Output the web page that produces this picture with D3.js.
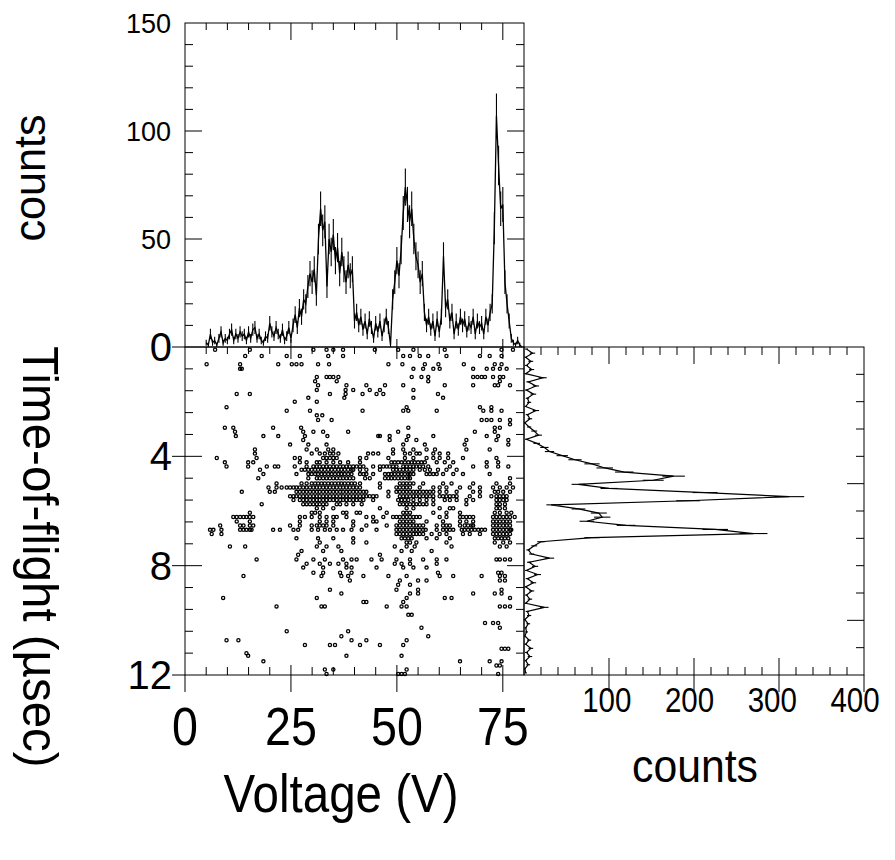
<!DOCTYPE html>
<html><head><meta charset="utf-8">
<script src="https://cdn.jsdelivr.net/npm/d3@7"></script>
<style>
body{margin:0;background:#fff}
svg{display:block}
text{font-family:"Liberation Sans",Arial,Helvetica,sans-serif;fill:#000}
</style>
</head><body>
<svg id="c" width="895" height="860"></svg>
<script>
// ---------------- DATA ----------------
// Voltage spectrum (top panel): bin centres from 5.0 V in 0.5 V steps
const voltageBinStart = 5.0;
const voltageBinWidth = 0.5;
const voltageCounts = [
  2,1,6,2,3,1,4,7,2,4, 3,6,8,3,6,4,7,5,6,3,
  7,4,8,9,4,6,3,2,5,4, 11,7,5,9,6,4,8,3,5,9,
  4,10,15,9,18,14,22,20,28,34, 30,36,24,50,64,54,58,28,50,44,
  52,40,46,34,44,36,30,38,33,36, 12,16,10,14,8,12,6,13,9,4,
  11,7,12,5,10,14,9,1,22,30, 40,33,45,62,74,66,58,64,50,42,
  38,30,34,16,10,14,8,12,5,13, 7,14,42,18,22,12,16,6,12,8,
  14,10,13,7,11,9,14,6,12,9, 11,6,14,10,16,20,55,107,84,64,
  66,30,20,12,4,2,1,3,1,0
];

// Time-of-flight spectrum (right panel): bin centres from 0.075 µs in 0.15 µs steps
const tofBinStart = 0.075;
const tofBinWidth = 0.15;
const tofCounts = [
  3,10,2,8,3,9,2,22,5,14, 3,11,4,6,2,14,4,7,1,6,
  12,17,3,15,24,30,45,60,80,95, 118,176,152,64,100,213,312,193,32,64,
  88,92,74,120,225,270,80,20,12,5, 9,30,6,13,3,16,4,11,2,9,
  3,7,2,24,4,6,1,5,2,3, 1,6,2,8,3,7,2,5,1,2
];

// Coincidence events (bottom-left panel): [time-of-flight µs, [voltages V]]
const scatterRows = [
  [0.10,[7.1,15.3,30.3,33.4,35.0,37.3,44.8,50.3,53.9,61.3,74.7,77.4]],
  [0.33,[14.2,18.1,24.0,27.1,33.8,37.3,51.5,53.1,55.4,57.4,61.7,69.6,71.9,74.7]],
  [0.63,[5.1,13.0,22.0,25.2,26.3,27.5,31.4,34.0,48.0,51.3,56.6,59.8,65.8,73.1,74.7]],
  [0.80,[13.0,13.4,53.9,56.2,58.6,60.1,68.0,71.2,72.7,74.3,75.9]],
  [1.10,[31.1,33.4,34.2,35.0,36.2,53.5,55.8,57.4,68.0,69.0,70.0,70.8,72.7,74.3,75.1]],
  [1.25,[30.7,35.8,57.4,74.3]],
  [1.40,[31.4,38.1,42.8,47.2,51.5,61.3,68.0,73.1,73.9,76.7]],
  [1.57,[31.1,37.9,39.7,43.6,46.0,53.9]],
  [1.72,[12.2,15.3,34.2,37.9,41.9,45.2,46.8,59.7]],
  [1.86,[29.1,37.6,53.9,60.9]],
  [2.00,[25.9,31.1]],
  [2.20,[9.8,52.3,69.6,72.3]],
  [2.33,[24.0,29.5,41.9,51.5,52.7,59.4,70.4,72.3,74.7]],
  [2.50,[31.1,32.4]],
  [2.67,[31.4,34.6,70.0,71.2,72.3,74.3,76.7]],
  [2.83,[76.7]],
  [2.95,[9.4,11.4,20.8,27.4,52.7,73.1,74.3]],
  [3.10,[11.8,27.9,30.3,32.6,38.5,50.3,68.4,73.1]],
  [3.26,[12.0,18.5,22.0,28.3,33.6,45.6,46.0,48.3,52.7,58.6,71.2,73.9]],
  [3.40,[27.9,48.3,52.3,54.6,66.4,73.5,76.3]],
  [3.57,[24.8,29.1,33.4,51.5,56.6,66.0,76.3]],
  [3.75,[16.5,28.7,31.1,33.8,35.0,49.1,51.5,53.9,57.0,59.0,66.4,71.9]],
  [3.90,[16.5,29.9,31.8,33.0,34.2,35.0,36.2,43.2,44.4,45.6,49.1,51.9,53.1,54.6,55.4,58.6,60.1,62.1]],
  [4.06,[7.5,16.9,25.9,27.1,32.6,33.4,34.2,35.0,35.8,41.3,42.8,48.0,51.9,53.9,57.0,58.6,60.1,62.1,65.6,73.5]],
  [4.22,[9.4,14.9,16.1,27.1,28.7,31.1,31.8,33.4,35.0,36.6,38.5,41.3,48.7,49.5,50.3,51.1,51.9,52.7,53.5,54.2,55.0,55.8,56.6,59.4,61.3,63.3,71.2,73.9]],
  [4.37,[9.8,14.9,19.3,21.2,22.0,25.9,28.7,30.3,31.1,31.8,32.6,33.4,34.2,35.0,35.8,36.6,37.3,38.1,38.9,39.7,40.5,41.3,42.1,44.4,46.0,46.8,47.6,48.3,49.1,49.9,51.5,52.3,53.1,53.9,54.6,55.4,56.2,57.4,62.5,68.0,71.2,73.9,76.3]],
  [4.49,[17.7,27.5,28.3,29.1,29.9,30.7,31.4,32.2,33.0,33.8,34.6,35.4,36.2,36.9,37.7,38.5,39.3,39.7,41.3,42.8,46.0,49.1,49.9,50.7,51.5,52.3,53.1,53.9,55.4,56.6,57.8,59.7,61.7,64.1]],
  [4.65,[18.5,26.3,29.1,29.9,30.7,31.4,32.2,33.0,33.8,34.6,35.4,36.2,36.9,37.7,38.5,39.3,41.3,42.1,42.8,44.4,47.2,48.0,48.7,49.5,50.3,51.1,51.9,52.7,53.1,53.9,57.0,57.8,58.6,59.4,60.9,63.3,65.6,71.9]],
  [4.80,[17.3,29.1,31.1,31.8,32.6,33.4,34.2,35.0,35.8,36.6,37.3,38.1,38.9,39.7,42.5,43.6,47.2,48.0,48.7,49.5,50.3,51.1,51.9,52.7,53.1,76.7]],
  [4.99,[21.6,27.5,28.7,29.9,30.7,31.4,32.2,33.0,33.8,34.6,35.4,36.2,36.9,37.7,38.5,39.3,40.1,41.3,46.0,50.7,51.5,52.3,53.1,53.9,56.2,60.9,62.9,68.0,73.5,76.7]],
  [5.14,[19.7,21.6,22.8,24.0,24.8,25.6,26.3,27.1,27.9,28.7,29.5,30.3,31.1,31.8,32.6,33.4,34.2,35.0,35.8,36.6,37.3,38.1,38.9,39.7,40.5,41.3,46.0,49.9,50.7,51.5,52.3,53.1,55.4,58.6,60.1,61.7,64.9,67.2,69.6,72.7,74.3,75.9,77.4]],
  [5.30,[13.4,20.0,21.2,26.3,27.1,27.9,28.7,29.5,30.3,31.1,31.8,32.6,33.4,34.2,35.0,35.8,36.6,37.3,38.1,38.9,39.7,40.5,41.3,42.1,42.8,48.0,49.9,50.7,51.5,52.3,53.1,53.9,54.6,55.4,56.2,57.0,57.8,58.6,60.1,61.7,64.1,68.0,69.6,73.1,73.9,75.1,76.7]],
  [5.46,[24.8,25.6,26.3,27.1,27.9,28.7,29.5,30.3,31.1,31.8,32.6,33.4,34.2,35.0,35.8,36.6,37.3,38.1,38.9,39.7,40.5,41.3,42.1,42.8,43.6,44.4,45.2,48.0,50.7,51.5,52.3,53.1,53.9,54.6,55.4,56.2,57.0,57.8,58.6,60.1,60.9,61.7,62.5,63.3,64.1,67.2,69.6,72.3,73.5,74.3,75.1,75.9]],
  [5.60,[25.6,27.1,27.9,28.7,29.5,30.3,31.1,31.8,32.6,33.4,34.2,35.0,35.8,36.6,37.3,38.1,38.9,39.7,40.5,41.3,42.1,44.4,50.3,51.1,51.9,52.7,53.9,55.4,57.0,58.6,61.3,62.5,64.1,66.4,68.0,73.5,74.3,75.1,75.9]],
  [5.75,[18.1,27.9,28.7,29.5,30.3,31.1,31.8,32.6,33.4,35.8,36.6,38.1,39.7,41.7,50.7,51.5,52.3,53.1,53.9,54.6,55.4,56.2,57.0,58.6,66.4,73.5,74.3,75.5]],
  [5.90,[31.1,32.6,35.0,46.0,52.3,53.9,60.1,62.5,63.3,73.5,74.3,75.5]],
  [6.06,[15.3,29.9,30.7,31.8,37.3,38.1,40.5,41.3,47.6,51.5,52.3,53.1,58.6,61.7,64.9,73.1,74.3,75.9,77.0]],
  [6.22,[11.4,12.2,13.0,13.8,14.5,15.3,16.1,27.1,28.3,29.9,31.8,33.4,35.0,35.8,38.1,42.8,44.4,46.8,49.1,49.9,50.7,51.5,52.3,53.1,53.9,54.6,55.4,60.1,61.7,64.9,65.6,66.4,67.2,68.0,72.7,73.5,74.3,75.1,75.9,76.7,77.8]],
  [6.38,[12.2,15.3,27.1,31.8,33.4,35.0,39.7,44.4,45.2,50.7,51.5,52.3,53.1,53.9,57.0,60.9,64.9,66.4,68.0,72.7,73.5,74.3,75.1,75.9,76.7]],
  [6.53,[8.3,13.0,13.8,15.3,16.1,24.8,27.1,29.9,31.1,31.8,32.6,33.4,35.0,39.7,42.8,47.6,49.9,50.7,51.5,52.3,53.1,53.9,54.6,55.4,56.2,59.4,60.9,61.7,62.5,64.9,66.0,66.8,67.6,68.0,72.7,73.5,74.3,75.1,75.9,76.7]],
  [6.69,[5.9,6.7,8.6,13.0,13.8,14.5,15.3,15.7,20.8,22.4,25.6,26.7,29.9,31.4,33.0,34.2,35.8,37.3,39.3,41.7,45.2,49.9,50.7,51.5,52.3,53.1,53.9,54.6,55.4,56.2,56.8,59.4,60.9,61.7,62.5,63.3,65.3,66.0,66.8,67.6,68.4,69.2,70.0,70.8,72.7,73.5,74.3,75.1,75.9,76.7,77.0]],
  [6.84,[6.3,8.6,49.9,50.7,51.5,52.3,53.1,53.9,54.6,55.4,56.2,58.2,60.1,61.7,65.6,67.2,69.6,72.7,73.5,74.3,75.1,75.9,76.7]],
  [7.00,[26.3,31.4,35.0,39.7,51.1,51.9,52.7,53.5,57.0,59.4,62.5,73.1,73.9,74.7,75.5,76.3]],
  [7.15,[31.8,39.7,42.8,52.3,53.1,54.6,61.7,73.1,75.1,76.7]],
  [7.30,[10.6,14.2,31.1,33.4,36.2,49.5,52.3,54.2,62.9,74.3,75.9]],
  [7.46,[27.5,32.6,36.9,51.1,53.5,58.2]],
  [7.60,[26.7,46.0]],
  [7.77,[16.9,26.3,30.3,33.0,37.3,39.3,40.5,44.0,46.4,49.9,53.1,56.2,59.4,61.7,73.5,74.3,75.5,76.7]],
  [7.93,[28.7,31.8,34.2,36.2,38.1,49.5,51.1,53.1,59.4]],
  [8.07,[27.9,32.6,38.1,39.3,45.2,51.5,53.9,57.0]],
  [8.26,[30.3,32.6,36.6,39.3,59.7,73.9,74.7]],
  [8.38,[13.8,32.2,36.9,38.5,42.1,48.0,52.3,60.1,63.3,70.0,74.3,75.5]],
  [8.54,[38.9,50.7,55.0,57.0,74.3,75.5]],
  [8.70,[50.3,53.1]],
  [8.88,[34.2,49.9,55.0,74.7]],
  [9.02,[36.9,53.1,55.0,68.0,73.1,74.7]],
  [9.18,[9.0,31.1,52.3,61.3,62.9,76.7]],
  [9.33,[42.1,42.8,51.5]],
  [9.49,[21.6,32.2,33.0,47.6,51.1,52.3,74.3,75.5,76.7]],
  [9.80,[52.7,53.5]],
  [10.10,[70.8,72.7,73.9]],
  [10.27,[55.8,74.3]],
  [10.40,[24.0,38.5]],
  [10.58,[36.9,57.4]],
  [10.73,[9.8,12.6,39.3,42.8,52.3]],
  [10.90,[28.3,34.2,35.4,41.3,46.0,51.5]],
  [11.04,[74.7,75.5,76.3]],
  [11.20,[14.5]],
  [11.30,[14.9,38.1,51.1]],
  [11.50,[18.5,64.9,71.9,74.7]],
  [11.65,[73.5,74.3]],
  [11.80,[33.0,35.0,52.3]],
  [11.96,[33.4,50.3,51.1,51.9,73.9]]
];

// Tick labels
const voltageTickLabels = [0, 25, 50, 75];
const tofTickLabels = [0, 4, 8, 12];
const topCountTickLabels = [50, 100, 150];
const rightCountTickLabels = [100, 200, 300, 400];

// ---------------- DRAWING ----------------
const svg = d3.select('#c');
const L = 185, M = 524, R = 864, T = 23, Y0 = 347, B = 675;

const xV = d3.scaleLinear().domain([0, 80]).range([L, M]);
const yC = d3.scaleLinear().domain([0, 150]).range([Y0, T]);
const yT = d3.scaleLinear().domain([0, 12]).range([Y0, B]);
const xC = d3.scaleLinear().domain([0, 400]).range([M, R]);
const xCLabel = d3.scaleLinear().domain([0, 400]).range([M, 855]);

const g = svg.append('g');
const lineStyle = s => s.attr('stroke', '#000').attr('stroke-width', 1).attr('fill', 'none');

function tick(x1, y1, x2, y2) {
  g.append('line').attr('x1', x1).attr('y1', y1).attr('x2', x2).attr('y2', y2).call(lineStyle);
}

// frames
g.append('rect').attr('x', L).attr('y', T).attr('width', M - L).attr('height', Y0 - T).call(lineStyle);
g.append('rect').attr('x', L).attr('y', Y0).attr('width', M - L).attr('height', B - Y0).call(lineStyle);
g.append('rect').attr('x', M).attr('y', Y0).attr('width', R - M).attr('height', B - Y0).call(lineStyle);

// voltage ticks (top of top panel, top & bottom of scatter)
d3.range(5, 80, 5).forEach(v => {
  const x = xV(v), major = v % 25 === 0;
  tick(x, T, x, T + (major ? 17 : 7));
  if (major) { tick(x, Y0 - 8, x, Y0 + 12); tick(x, B - 10, x, B + 17); }
  else { tick(x, Y0, x, Y0 + 7); tick(x, B, x, B - 8); }
});
tick(xV(0), B, xV(0), B + 17);

// count ticks of top panel (left & right)
d3.range(10, 150, 10).forEach(c => {
  const y = yC(c), len = c % 50 === 0 ? 17 : 8;
  tick(L, y, L + len, y);
  tick(M, y, M - len, y);
});

// TOF ticks of scatter (left & right)
d3.range(0.8, 12, 0.8).forEach(t => {
  const y = yT(t), major = Math.abs(t / 4 - Math.round(t / 4)) < 1e-6;
  if (major) { tick(L - 13, y, L + 17, y); tick(M, y, M - 17, y); }
  else { tick(L, y, L + 8, y); tick(M, y, M - 8, y); }
});
tick(L - 13, yT(0), L, yT(0));
tick(L - 13, yT(12), L, yT(12));

// count ticks of right panel (top & bottom)
d3.range(20, 400, 20).forEach(c => {
  const x = xC(c), major = c % 100 === 0;
  tick(x, Y0, x, Y0 + (major ? 17 : 8));
  if (major) tick(x, B - 17, x, B + 17); else tick(x, B, x, B - 8);
});
tick(xC(400), B, xC(400), B + 17);

// TOF ticks of right panel (right edge)
d3.range(1, 12, 1).forEach(t => {
  const y = yT(t), len = t % 5 === 0 ? 17 : 8;
  tick(R, y, R - len, y);
});

// ---- top histogram ----
const vData = voltageCounts.map((c, i) => ({ v: voltageBinStart + i * voltageBinWidth, c }));
g.append('g').selectAll('line').data(vData).join('line')
  .attr('x1', d => xV(d.v)).attr('x2', d => xV(d.v))
  .attr('y1', d => yC(Math.max(0, d.c - Math.sqrt(d.c))))
  .attr('y2', d => yC(d.c + Math.sqrt(d.c)))
  .attr('stroke', '#000').attr('stroke-width', 1.1);
g.append('path').datum(vData)
  .attr('d', d3.line().x(d => xV(d.v)).y(d => yC(d.c)))
  .attr('stroke', '#000').attr('stroke-width', 1.3).attr('fill', 'none');

// ---- right histogram ----
const tData = tofCounts.map((c, i) => ({ t: tofBinStart + i * tofBinWidth, c }));
g.append('g').selectAll('line').data(tData).join('line')
  .attr('y1', d => yT(d.t)).attr('y2', d => yT(d.t))
  .attr('x1', d => xC(Math.max(0, d.c - Math.sqrt(d.c))))
  .attr('x2', d => xC(d.c + Math.sqrt(d.c)))
  .attr('stroke', '#000').attr('stroke-width', 1.1);
g.append('path').datum(tData)
  .attr('d', d3.line().x(d => xC(d.c)).y(d => yT(d.t)))
  .attr('stroke', '#000').attr('stroke-width', 1.2).attr('fill', 'none');

// ---- scatter ----
const pts = scatterRows.flatMap(([t, vs]) => vs.map(v => ({ t, v })));
g.append('g').selectAll('circle').data(pts).join('circle')
  .attr('cx', d => xV(d.v)).attr('cy', d => yT(d.t)).attr('r', 1.6)
  .attr('fill', 'none').attr('stroke', '#000').attr('stroke-width', 1.3);

// ---------------- TEXT ----------------
function label(txt, x, y, size, sx, anchor, rot) {
  return svg.append('text')
    .attr('transform', `translate(${x},${y})` + (rot ? ` rotate(${rot})` : '') + ` scale(${sx},1)`)
    .attr('font-size', size).attr('text-anchor', anchor || 'middle').text(txt);
}
topCountTickLabels.forEach(c => label(c, 171, yC(c) + 9.5, 27, 1, 'end'));
tofTickLabels.forEach(t => label(t, 172, yT(t) + 14, 40, 1, 'end'));
voltageTickLabels.forEach(v => label(v, xV(v), 745, 53, 0.88, 'middle'));
rightCountTickLabels.forEach(c => label(c, xCLabel(c), 712, 36, 0.82, 'middle'));
label('Voltage (V)', 341, 812, 54, 0.88, 'middle');
label('counts', 695, 782, 46, 0.93, 'middle');
label('counts', 45, 178, 44, 0.98, 'middle', -90);
label('Time-of-flight (\u00b5sec)', 23, 557, 50, 0.95, 'middle', 90);
</script>
</body></html>
